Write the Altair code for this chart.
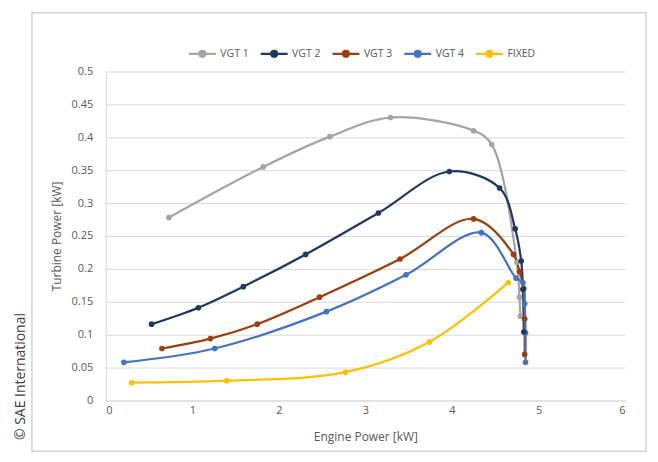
import altair as alt
import pandas as pd

series = ["VGT 1", "VGT 2", "VGT 3", "VGT 4", "FIXED"]
colors = ["#a5a5a5", "#1f3864", "#9c3f0c", "#4472c4", "#ffc000"]

vgt1_x = [0.73, 1.82, 2.59, 3.29, 4.25, 4.46, 4.75, 4.78, 4.79]
vgt1_y = [0.278, 0.355, 0.401, 0.430, 0.410, 0.389, 0.210, 0.157, 0.128]

vgt2_x = [0.53, 1.07, 1.59, 2.31, 3.15, 3.97, 4.55, 4.73, 4.80, 4.82, 4.83]
vgt2_y = [0.116, 0.141, 0.173, 0.222, 0.285, 0.348, 0.323, 0.261, 0.212, 0.169, 0.104]

vgt3_x = [0.65, 1.21, 1.75, 2.47, 3.40, 4.25, 4.71, 4.78, 4.83, 4.84, 4.84]
vgt3_y = [0.079, 0.094, 0.116, 0.157, 0.215, 0.276, 0.222, 0.196, 0.170, 0.124, 0.070]

vgt4_x = [0.21, 1.26, 2.55, 3.47, 4.34, 4.74, 4.82, 4.84, 4.85, 4.85]
vgt4_y = [0.058, 0.079, 0.135, 0.191, 0.255, 0.186, 0.179, 0.147, 0.103, 0.058]

fixed_x = [0.30, 1.40, 2.77, 3.74, 4.65]
fixed_y = [0.027, 0.030, 0.043, 0.089, 0.179]

x_ticks = [0, 1, 2, 3, 4, 5, 6]
y_ticks = [0, 0.05, 0.1, 0.15, 0.2, 0.25, 0.3, 0.35, 0.4, 0.45, 0.5]

rows = []
for name, xs, ys in zip(series,
                        [vgt1_x, vgt2_x, vgt3_x, vgt4_x, fixed_x],
                        [vgt1_y, vgt2_y, vgt3_y, vgt4_y, fixed_y]):
    for i, (xv, yv) in enumerate(zip(xs, ys)):
        rows.append({"series": name, "x": xv, "y": yv, "i": i})
df = pd.DataFrame(rows)

FONT = "Open Sans"
GREY = "#595959"

color = alt.Color(
    "series:N",
    scale=alt.Scale(domain=series, range=colors),
    sort=series,
    legend=alt.Legend(
        title=None,
        orient="none",
        legendX=82,
        legendY=-33,
        direction="horizontal",
        symbolType="M-1,0H1M-0.22,0A0.22,0.22,0,1,1,0.22,0A0.22,0.22,0,1,1,-0.22,0Z",
        symbolSize=729,
        symbolStrokeWidth=2.25,
        labelFont=FONT,
        labelFontSize=10.5,
        labelColor=GREY,
        labelOffset=3,
        columnPadding=7,
        padding=0,
    ),
)

base = alt.Chart(df).encode(
    x=alt.X(
        "x:Q",
        scale=alt.Scale(domain=[0, 6]),
        axis=alt.Axis(values=x_ticks, title="Engine Power [kW]", grid=False,
                      labelPadding=4, titlePadding=16),
    ),
    y=alt.Y(
        "y:Q",
        scale=alt.Scale(domain=[0, 0.5]),
        axis=alt.Axis(values=y_ticks, title="Turbine Power [kW]", format="~g",
                      labelPadding=13, titlePadding=8),
    ),
    color=color,
    order="i:Q",
)

lines = base.mark_line(interpolate="catmull-rom", strokeWidth=2.25)
points = base.mark_point(filled=True, size=32, opacity=1)

frame = alt.Chart(pd.DataFrame({"a": [0]})).mark_rect(
    fill=None, stroke="#d4d4d4", strokeWidth=1.5
).encode(x=alt.value(-74), x2=alt.value(542), y=alt.value(-59), y2=alt.value(381))

copyright_txt = alt.Chart(pd.DataFrame({"t": ["© SAE International"]})).mark_text(
    angle=270, font=FONT, fontSize=14, color="#404040"
).encode(text="t:N", x=alt.value(-85), y=alt.value(306))

chart = alt.layer(frame, lines, points, copyright_txt).properties(
    width=521,
    height=330,
    autosize=alt.AutoSizeParams(type="none"),
    padding={"left": 98, "top": 63, "right": 25, "bottom": 52},
    background="white",
).configure_view(stroke=None).configure_axis(
    domainColor="#d9d9d9",
    gridColor="#d9d9d9",
    ticks=False,
    labelColor=GREY,
    titleColor=GREY,
    labelFont=FONT,
    titleFont=FONT,
    labelFontSize=11,
    titleFontSize=12,
    titleFontWeight="normal",
)

chart.save("out.html", embed_options={"renderer": "svg", "actions": False})
